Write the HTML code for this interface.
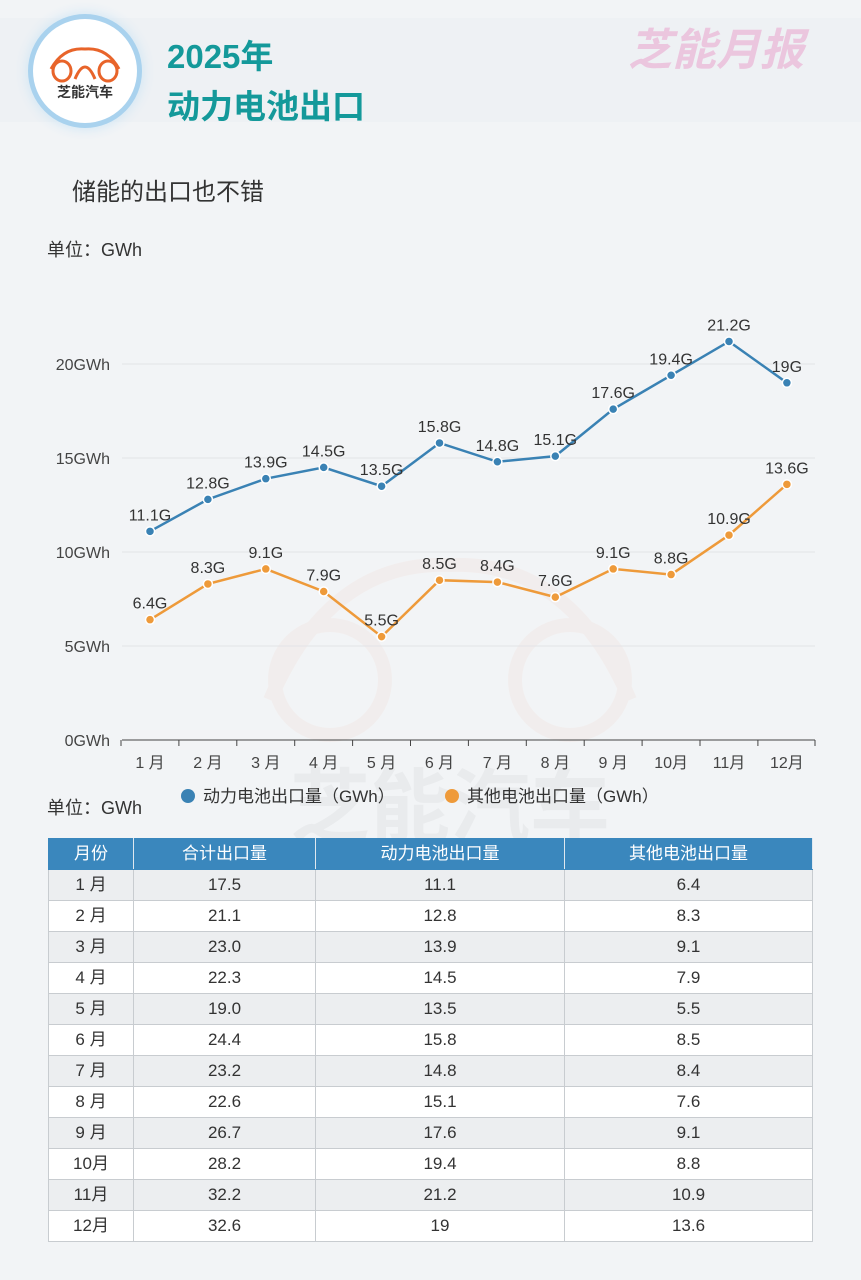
<!DOCTYPE html>
<html><head><meta charset="utf-8">
<style>
body{margin:0;width:861px;height:1280px;background:#f2f4f6;font-family:"Liberation Sans","Noto Sans CJK SC",sans-serif;position:relative;overflow:hidden}
.abs{position:absolute}
table{position:absolute;left:48px;top:838px;width:765px;border-collapse:collapse;font-size:17px;color:#333;line-height:20px}
td,th{border:1px solid #c8ccd0;height:30px;padding:0;text-align:center;font-weight:normal;vertical-align:middle}
th{background:#3a87bd;color:#fff;border-color:#3a87bd;border-right:1px solid #dfe8f0}
tr:nth-child(odd) td{background:#fff}
tr:nth-child(even) td{background:#eceef0}
</style></head><body>
<div class="abs" style="left:0;top:18px;width:861px;height:104px;background:#eef1f4"></div>
<div class="abs" style="left:33px;top:19px;width:104px;height:104px;border-radius:50%;background:#fff;box-shadow:0 0 0 5px #a9d2ee,0 0 12px 6px #cfe6f5">
<svg width="104" height="104"><g fill="none" stroke="#e8642a" stroke-width="3"><path d="M18 50 Q30 28 52 30 Q74 28 86 50"/><ellipse cx="29" cy="52" rx="9" ry="10"/><ellipse cx="75" cy="52" rx="9" ry="10"/><path d="M42 60 Q52 36 62 60"/></g>
<text x="52" y="78" font-size="14" text-anchor="middle" fill="#333" font-weight="bold">芝能汽车</text></svg></div>
<div class="abs" style="left:167px;top:30px;font-size:33px;font-weight:bold;color:#14999a">2025年</div>
<div class="abs" style="left:167px;top:80px;font-size:33px;font-weight:bold;color:#14999a">动力电池出口</div>
<div class="abs" style="left:628px;top:14px;font-size:44px;font-weight:bold;font-style:italic;color:#ebc6de">芝能月报</div>
<div class="abs" style="left:72px;top:172px;font-size:24px;color:#333">储能的出口也不错</div>
<div class="abs" style="left:47px;top:236px;font-size:18px;color:#333">单位：GWh</div>
<div class="abs" style="left:47px;top:794px;font-size:18px;color:#333">单位：GWh</div>
<svg class="abs" style="left:0;top:0" width="861" height="840" id="chart">
<g opacity="0.04" fill="none" stroke="#e8642a" stroke-width="14"><path d="M270 700 Q330 560 450 565 Q570 560 630 700"/><circle cx="330" cy="680" r="55"/><circle cx="570" cy="680" r="55"/></g>
<text x="450" y="835" font-size="80" text-anchor="middle" fill="#000" opacity="0.03" font-weight="bold">芝能汽车</text>
</svg>
<table id="tbl">
<tr><th style="width:84px">月份</th><th style="width:181px">合计出口量</th><th style="width:248px">动力电池出口量</th><th>其他电池出口量</th></tr>
</table>
<script>
const months=["1 月","2 月","3 月","4 月","5 月","6 月","7 月","8 月","9 月","10月","11月","12月"];
const power=[11.1,12.8,13.9,14.5,13.5,15.8,14.8,15.1,17.6,19.4,21.2,19];
const other=[6.4,8.3,9.1,7.9,5.5,8.5,8.4,7.6,9.1,8.8,10.9,13.6];
const totals=["17.5","21.1","23.0","22.3","19.0","24.4","23.2","22.6","26.7","28.2","32.2","32.6"];
const yTicks=[0,5,10,15,20];
const NS="http://www.w3.org/2000/svg";
const svg=document.getElementById('chart');
const x=i=>150+i*57.9;
const y=v=>740-v*18.8;
function mk(t,a){const e=document.createElementNS(NS,t);for(const k in a)e.setAttribute(k,a[k]);svg.appendChild(e);return e;}
yTicks.forEach(v=>{
 const l=mk('line',{x1:122,x2:815,y1:y(v),y2:y(v),stroke:v?'#e2e4e6':'#444','stroke-width':1});
 
 
 const t=mk('text',{x:110,y:y(v)+6,'font-size':16,'text-anchor':'end',fill:'#444'});t.textContent=v+'GWh';
 
 
});
months.forEach((m,i)=>{
 mk('line',{x1:x(i)-29,x2:x(i)-29,y1:740,y2:746,stroke:'#444'});
 const t=mk('text',{x:x(i),y:768,'font-size':16,'text-anchor':'middle',fill:'#444'});t.textContent=m;
 
 
});
mk('line',{x1:815,x2:815,y1:740,y2:746,stroke:'#444'});
function series(vals,color,name){
 const p=mk('polyline',{points:vals.map((v,i)=>x(i)+','+y(v)).join(' '),fill:'none',stroke:color,'stroke-width':2.5});
 
 
 vals.forEach((v,i)=>{
  const c=mk('circle',{cx:x(i),cy:y(v),r:4.5,fill:color,stroke:'#fff','stroke-width':1.5});
  
  
  const t=mk('text',{x:x(i),y:y(v)-11,'font-size':16,'text-anchor':'middle',fill:'#333'});t.textContent=v+'G';
  
  
 });
}
series(power,'#3a82b4','power-battery');
series(other,'#ee9a3a','other-battery');
[[188,'#3a82b4','动力电池出口量（GWh）','legend-power'],[452,'#ee9a3a','其他电池出口量（GWh）','legend-other']].forEach(d=>{
 const c=mk('circle',{cx:d[0],cy:796,r:7,fill:d[1]});
 
 
 const t=mk('text',{x:d[0]+15,y:802,'font-size':17,fill:'#333'});t.textContent=d[2];
 
 
});
const tbl=document.getElementById('tbl');
months.forEach((m,i)=>{
 const tr=document.createElement('tr');
 
 
 [m,totals[i],String(power[i]),String(other[i])].forEach(s=>{const td=document.createElement('td');td.textContent=s;tr.appendChild(td);});
 tbl.appendChild(tr);
});
</script>
</body></html>
